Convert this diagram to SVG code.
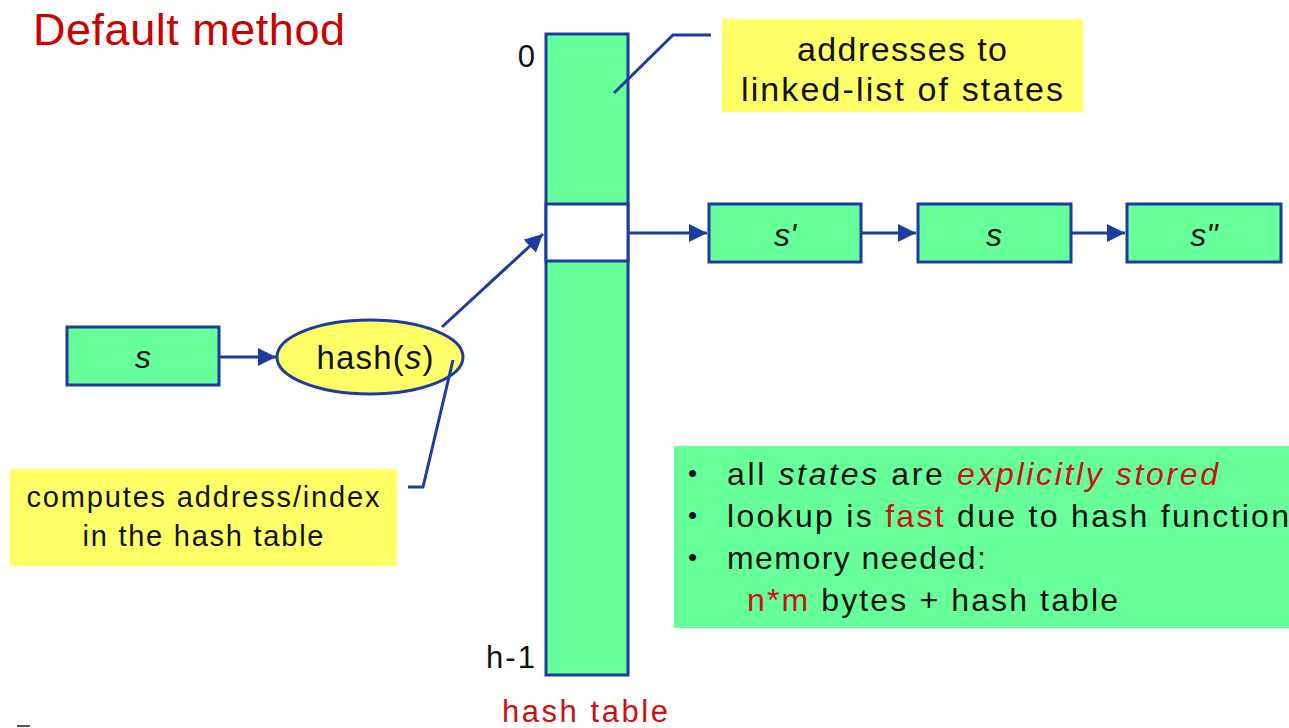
<svg xmlns="http://www.w3.org/2000/svg" width="1289" height="728" viewBox="0 0 1289 728">
  <style>
    .box { fill: #66FF99; stroke: #1C3D9E; stroke-width: 3; }
    .note { fill: #FFFF66; }
    .edge { fill: none; stroke: #1C3D9E; stroke-width: 3; }
    .lead { fill: none; stroke: #1C3D9E; stroke-width: 3; }
    .t { font-family: "Liberation Sans", Arial, sans-serif; fill: #111; }
    .red { fill: #CC1111; }
    .lbl { font-family: "Liberation Sans", Arial, sans-serif; font-style: italic; font-size: 32px; fill: #111; text-anchor: middle; }
  </style>
  <defs>
    <marker id="arr" viewBox="0 0 10 10" refX="10" refY="5" markerWidth="6" markerHeight="6" orient="auto" markerUnits="strokeWidth">
      <path d="M0,0 L10,5 L0,10 Z" fill="#1C3D9E"/>
    </marker>
  </defs>

  <rect width="1289" height="728" fill="#FFFFFF"/>

  <!-- title -->
  <text x="33" y="45" font-family="Liberation Sans, Arial, sans-serif" font-size="45" fill="#CC0000" textLength="312">Default method</text>

  <!-- hash table column -->
  <g id="hash-table">
    <rect class="box" x="546" y="34" width="82" height="641"/>
    <rect x="546" y="204" width="82" height="57" fill="#FFFFFF" stroke="#1C3D9E" stroke-width="3"/>
    <text class="t" x="535" y="67" font-size="31" text-anchor="end">0</text>
    <text class="t" x="535" y="668" font-size="31" text-anchor="end" textLength="49">h-1</text>
    <text class="t red" x="585" y="722" font-size="31" text-anchor="middle" textLength="166">hash table</text>
  </g>

  <!-- callout: addresses -->
  <g id="note-addresses">
    <rect class="note" x="722" y="19" width="361" height="93"/>
    <text class="t" x="902" y="61" font-size="34" text-anchor="middle" textLength="210">addresses to</text>
    <text class="t" x="902" y="101" font-size="34" text-anchor="middle" textLength="322">linked-list of states</text>
  </g>

  <!-- linked list of states -->
  <g id="node-s1">
    <rect class="box" x="709" y="204" width="152" height="58"/>
    <text class="lbl" x="785" y="246">s'</text>
  </g>
  <g id="node-s2">
    <rect class="box" x="918" y="204" width="153" height="58"/>
    <text class="lbl" x="994" y="246">s</text>
  </g>
  <g id="node-s3">
    <rect class="box" x="1127" y="204" width="154" height="58"/>
    <text class="lbl" x="1204" y="246">s"</text>
  </g>

  <!-- input state -->
  <g id="node-s">
    <rect class="box" x="67" y="327" width="152" height="58"/>
    <text class="lbl" x="143" y="368">s</text>
  </g>

  <!-- hash function -->
  <g id="node-hash">
    <ellipse cx="370" cy="357" rx="93" ry="37" fill="#FFFF66" stroke="#1C3D9E" stroke-width="3"/>
    <text class="t" x="375" y="369" font-size="33" text-anchor="middle" textLength="117">hash(<tspan font-style="italic">s</tspan>)</text>
  </g>

  <!-- callout: computes -->
  <g id="note-computes">
    <rect class="note" x="10" y="469" width="387" height="97"/>
    <text class="t" x="203" y="507" font-size="29" text-anchor="middle" textLength="353">computes address/index</text>
    <text class="t" x="203" y="546" font-size="29" text-anchor="middle" textLength="241">in the hash table</text>
  </g>

  <!-- summary box -->
  <g id="summary">
    <rect x="674" y="446" width="615" height="182" fill="#66FF99"/>
    <text class="t" x="688" y="482" font-size="26">•</text>
    <text class="t" x="688" y="524" font-size="26">•</text>
    <text class="t" x="688" y="566" font-size="26">•</text>
    <text class="t" x="727" y="485" font-size="32" textLength="491">all <tspan font-style="italic">states</tspan> are <tspan class="red" font-style="italic">explicitly stored</tspan></text>
    <text class="t" x="727" y="527" font-size="32" textLength="562">lookup is <tspan class="red">fast</tspan> due to hash function</text>
    <text class="t" x="727" y="569" font-size="32" textLength="259">memory needed:</text>
    <text class="t" x="747" y="611" font-size="32" textLength="371"><tspan class="red">n*m</tspan> bytes + hash table</text>
  </g>

  <!-- connectors -->
  <g id="connectors">
    <line class="edge" x1="219" y1="357" x2="276" y2="357" marker-end="url(#arr)"/>
    <line class="edge" x1="442" y1="327" x2="543" y2="234" marker-end="url(#arr)"/>
    <line class="edge" x1="628" y1="233" x2="707" y2="233" marker-end="url(#arr)"/>
    <line class="edge" x1="861" y1="233" x2="916" y2="233" marker-end="url(#arr)"/>
    <line class="edge" x1="1071" y1="233" x2="1125" y2="233" marker-end="url(#arr)"/>
    <polyline class="lead" points="711,35 673,35 614,93"/>
    <polyline class="lead" points="453,360 423,487 408,487"/>
  </g>

  <line x1="17" y1="726" x2="30" y2="726" stroke="#555" stroke-width="2"/>
</svg>
